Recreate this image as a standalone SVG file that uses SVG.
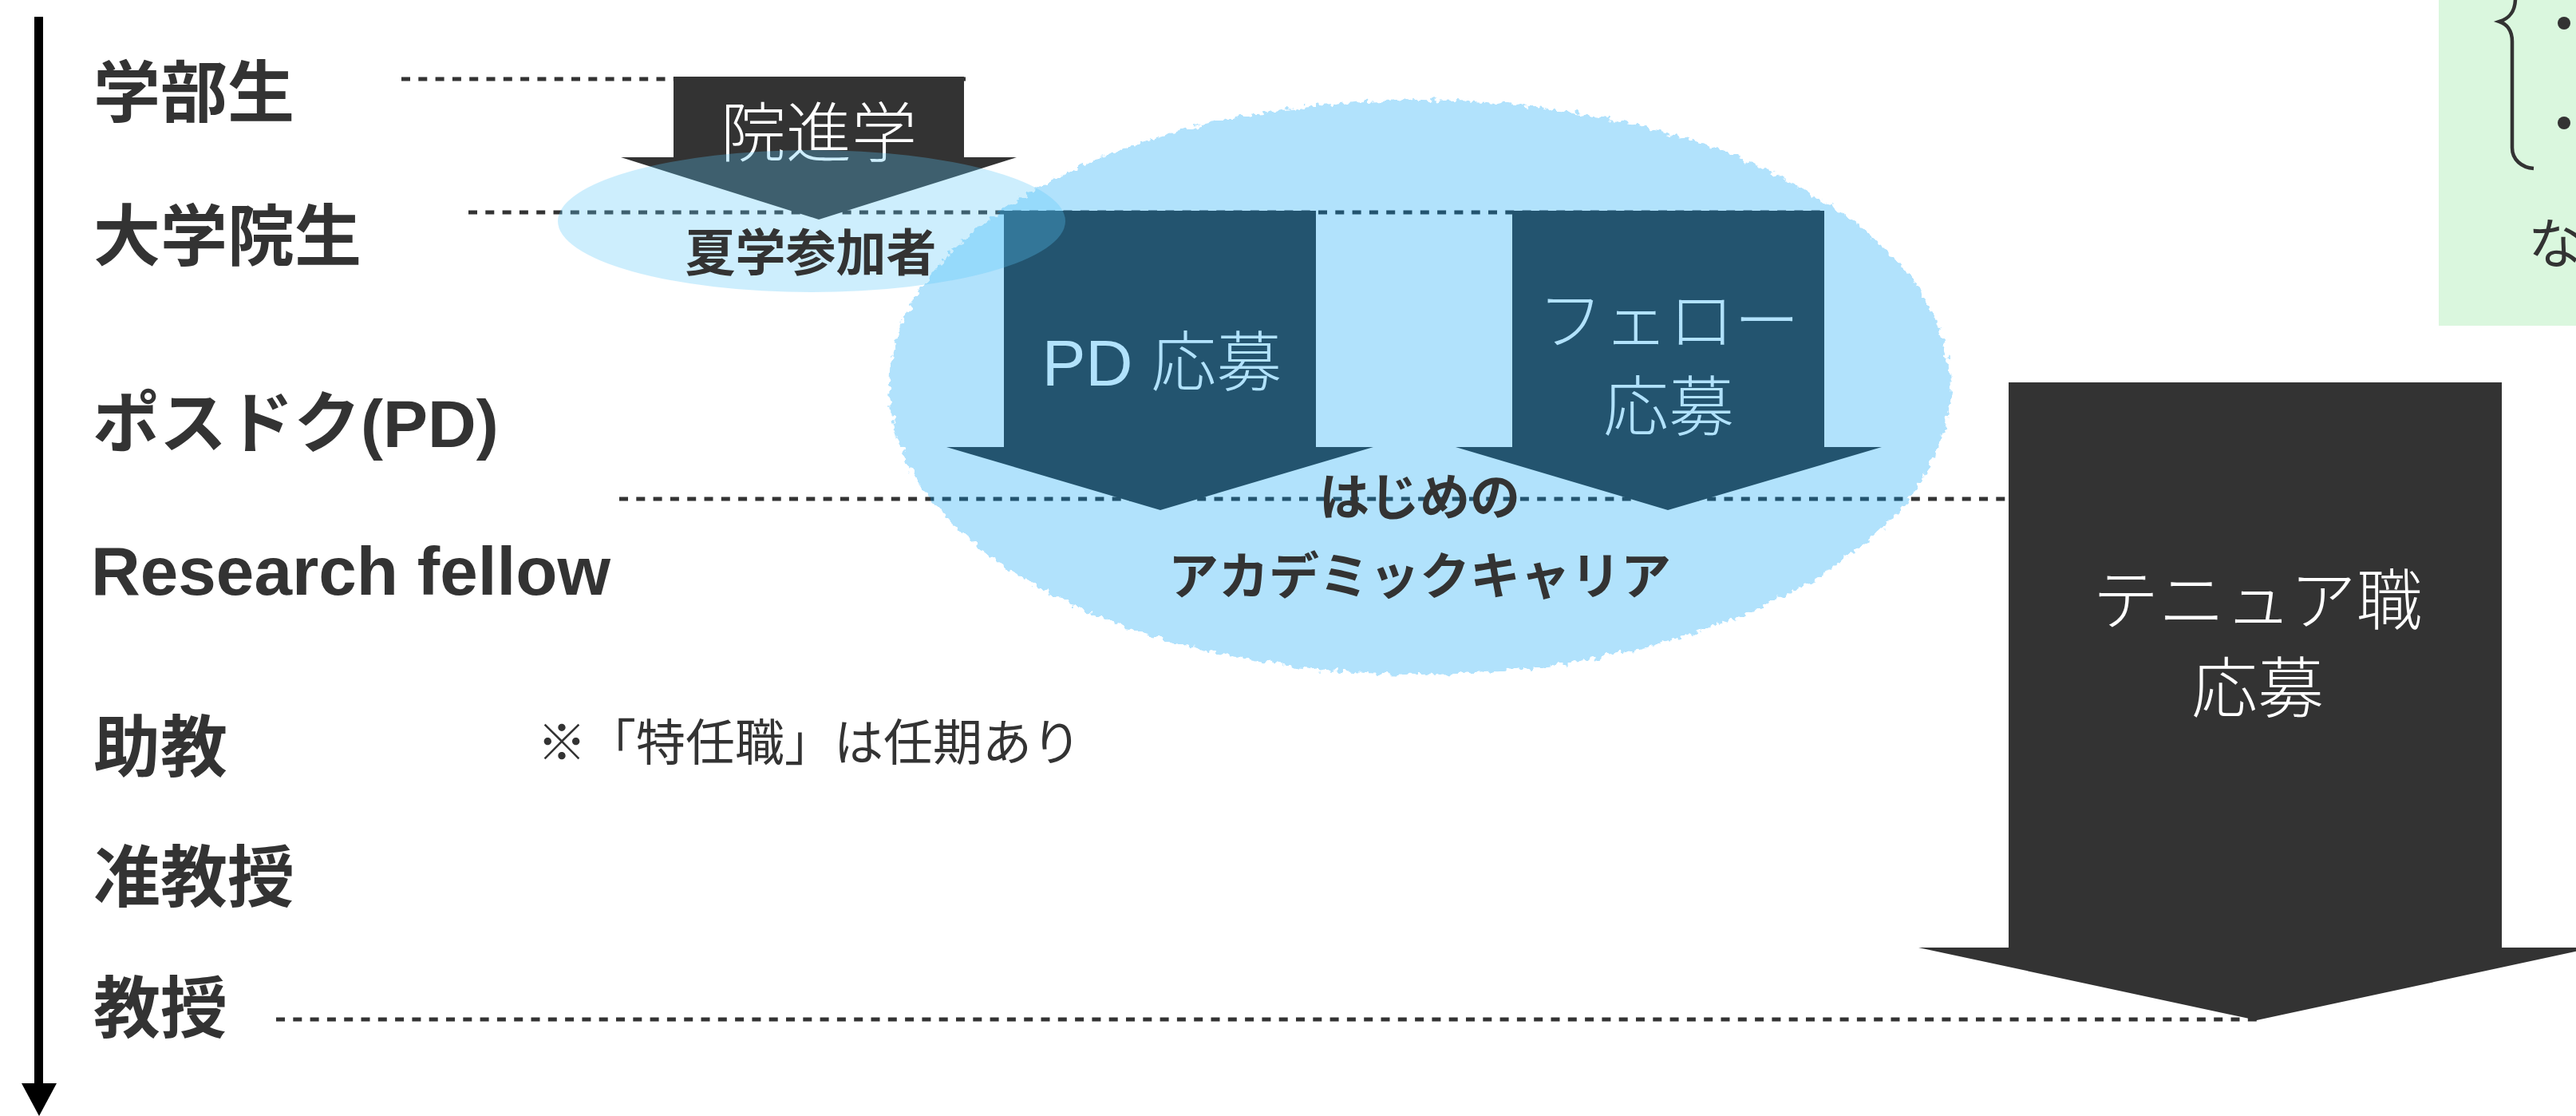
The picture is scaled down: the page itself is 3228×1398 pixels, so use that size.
<svg xmlns="http://www.w3.org/2000/svg" width="3228" height="1398" viewBox="0 0 3228 1398">
<style>
.lbl{font-family:"Liberation Sans","Noto Sans CJK JP",sans-serif;font-weight:700;font-size:84px;fill:#333}
.note{font-family:"Noto Sans CJK JP",sans-serif;font-weight:400;font-size:62px;fill:#333}
.dot{stroke:#333;stroke-width:5;stroke-dasharray:11 10.3;fill:none}
.dark{fill:#333}
.wt{font-family:"Liberation Sans","Noto Sans CJK JP",sans-serif;font-weight:300;font-size:82px;fill:#fff;text-anchor:middle}
.bt{font-family:"Noto Sans CJK JP",sans-serif;font-weight:700;font-size:63px;fill:#333;text-anchor:middle}
</style>
<defs>
<filter id="rough" x="-5%" y="-5%" width="110%" height="110%">
<feTurbulence type="fractalNoise" baseFrequency="0.12" numOctaves="2" seed="4" result="n"/>
<feDisplacementMap in="SourceGraphic" in2="n" scale="14" xChannelSelector="R" yChannelSelector="G"/>
</filter>
</defs>
<rect width="3228" height="1398" fill="#fff"/>

<g id="note-box">
<rect x="3056" y="0" width="172" height="408" fill="#daf7de"/>
<path d="M3152,-2 C3152,18 3141,24 3132,27 C3141,30 3148,38 3148,52 L3148,185 C3148,200 3160,210 3175,211" fill="none" stroke="#333" stroke-width="4.5"/>
<circle cx="3213" cy="29" r="8" fill="#333"/>
<circle cx="3213" cy="154" r="8" fill="#333"/>
<text x="3168" y="330" style="font-family:'Noto Sans CJK JP',sans-serif;font-size:68px;fill:#333">な</text>
</g>

<g id="connectors">
<line x1="48.5" y1="21" x2="48.5" y2="1360" stroke="#000" stroke-width="11"/>
<polygon points="27,1357 71,1357 49,1398" fill="#000"/>
<line class="dot" x1="503" y1="99" x2="1210" y2="99"/>
<line class="dot" x1="587" y1="266" x2="2286" y2="266"/>
<line class="dot" x1="776" y1="625" x2="2517" y2="625"/>
<line class="dot" x1="346" y1="1277" x2="2830" y2="1277"/>
</g>

<g id="labels">
<text class="lbl" x="117" y="146">学部生</text>
<text class="lbl" x="117" y="326">大学院生</text>
<text class="lbl" x="116" y="560">ポスドク(PD)</text>
<text class="lbl" x="114" y="745" style="font-size:85.5px">Research fellow</text>
<text class="lbl" x="117" y="966">助教</text>
<text class="lbl" x="117" y="1129">准教授</text>
<text class="lbl" x="117" y="1293">教授</text>
<text class="note" x="673" y="953">※「特任職」は任期あり</text>
</g>

<g id="arrow-inshingaku">
<polygon class="dark" points="844,96 1208,96 1208,197 1274,197 1026,275 778,197 844,197"/>
<text class="wt" x="1026" y="196">院進学</text>
</g>

<g id="arrow-pd">
<polygon class="dark" points="1258,264 1649,264 1649,560 1721,560 1454,639 1186,560 1258,560"/>
<text class="wt" x="1456" y="483">PD 応募</text>
</g>

<g id="arrow-fellow">
<polygon class="dark" points="1895,264 2286,264 2286,560 2358,560 2090,639 1824,560 1895,560"/>
<text class="wt" x="2091" y="431">フェロー</text>
<text class="wt" x="2091" y="539">応募</text>
</g>

<g id="first-career">
<ellipse cx="1779" cy="485" rx="665" ry="360" fill="#00a1f8" opacity="0.3" filter="url(#rough)"/>
</g>

<g id="summer-school">
<ellipse cx="1017" cy="277" rx="318" ry="89" fill="#5ac8fa" opacity="0.3"/>
<text class="bt" x="1016" y="339">夏学参加者</text>
</g>

<g id="first-career-label">
<text class="bt" x="1779" y="645">はじめの</text>
<text class="bt" x="1779" y="744">アカデミックキャリア</text>
</g>

<g id="arrow-tenure">
<polygon class="dark" points="2517,479 3135,479 3135,1187 3250,1187 2828,1278 2404,1187 2517,1187"/>
<text class="wt" x="2829" y="782" style="font-size:83px">テニュア職</text>
<text class="wt" x="2829" y="892" style="font-size:83px">応募</text>
</g>
</svg>
